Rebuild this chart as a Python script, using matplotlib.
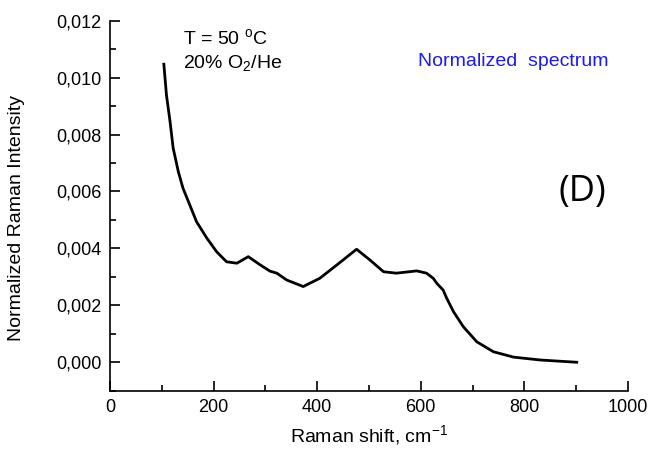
import matplotlib
matplotlib.use('Agg')
import matplotlib.pyplot as plt
from matplotlib.ticker import FuncFormatter, MultipleLocator

plt.rcParams['font.family'] = ['Liberation Sans', 'DejaVu Sans']
plt.rcParams['mathtext.default'] = 'regular'

# spectrum (Raman shift, normalized intensity)
shift = [104, 109, 116, 122, 132, 141, 154, 167, 187, 206, 225, 245, 267, 290,
         309, 322, 341, 373, 405, 438, 476, 502, 528, 553, 592, 611, 624, 631,
         643, 650, 663, 682, 708, 740, 779, 830, 865, 901]
intensity = [0.01047, 0.00939, 0.00845, 0.00752, 0.00669, 0.00611, 0.00553,
             0.00494, 0.00436, 0.00388, 0.00353, 0.00348, 0.00371, 0.00342,
             0.00320, 0.00313, 0.00289, 0.00266, 0.00295, 0.00342, 0.00397,
             0.00359, 0.00318, 0.00313, 0.00321, 0.00313, 0.00295, 0.00277,
             0.00254, 0.00225, 0.00178, 0.00125, 0.00072, 0.00037, 0.00018,
             0.00008, 0.00004, 0.0]

fig = plt.figure(figsize=(6.5, 4.53), dpi=100)
ax = fig.add_axes([0.1692, 0.1375, 0.797, 0.8168])

ax.plot(shift, intensity, color='black', lw=2.0)

ax.set_xlim(0, 1000)
ax.set_ylim(-0.001, 0.012)
ax.xaxis.set_major_locator(MultipleLocator(200))
ax.xaxis.set_minor_locator(MultipleLocator(100))
ax.yaxis.set_major_locator(MultipleLocator(0.002))
ax.yaxis.set_minor_locator(MultipleLocator(0.001))
ax.yaxis.set_major_formatter(FuncFormatter(lambda v, p: ('%.3f' % v).replace('.', ',')))
ax.set_yticks([0, 0.002, 0.004, 0.006, 0.008, 0.010, 0.012])

for s in ['top', 'right']:
    ax.spines[s].set_visible(False)
for s in ['left', 'bottom']:
    ax.spines[s].set_linewidth(1.2)
ax.tick_params(which='major', direction='in', length=7, width=1.2, labelsize=13, pad=6)
ax.tick_params(which='minor', direction='in', length=4, width=1.2)

ax.set_xlabel('Raman shift, cm$^{-1}$', fontsize=14, labelpad=5)
ax.set_ylabel('Normalized Raman Intensity', fontsize=14)
ax.yaxis.set_label_coords(-0.164, 0.468)

ax.text(141, 0.01139, 'T = 50 $^{o}$C', fontsize=14, va='center')
ax.text(141, 0.01051, '20% O$_2$/He', fontsize=14, va='center')
ax.text(595, 0.01055, 'Normalized  spectrum', fontsize=14, color='#1a1aff', va='center')
ax.text(911, 0.00598, '(D)', fontsize=26, family=['Open Sans', 'DejaVu Sans'],
        ha='center', va='center')

fig.savefig('out.png', dpi=100)
